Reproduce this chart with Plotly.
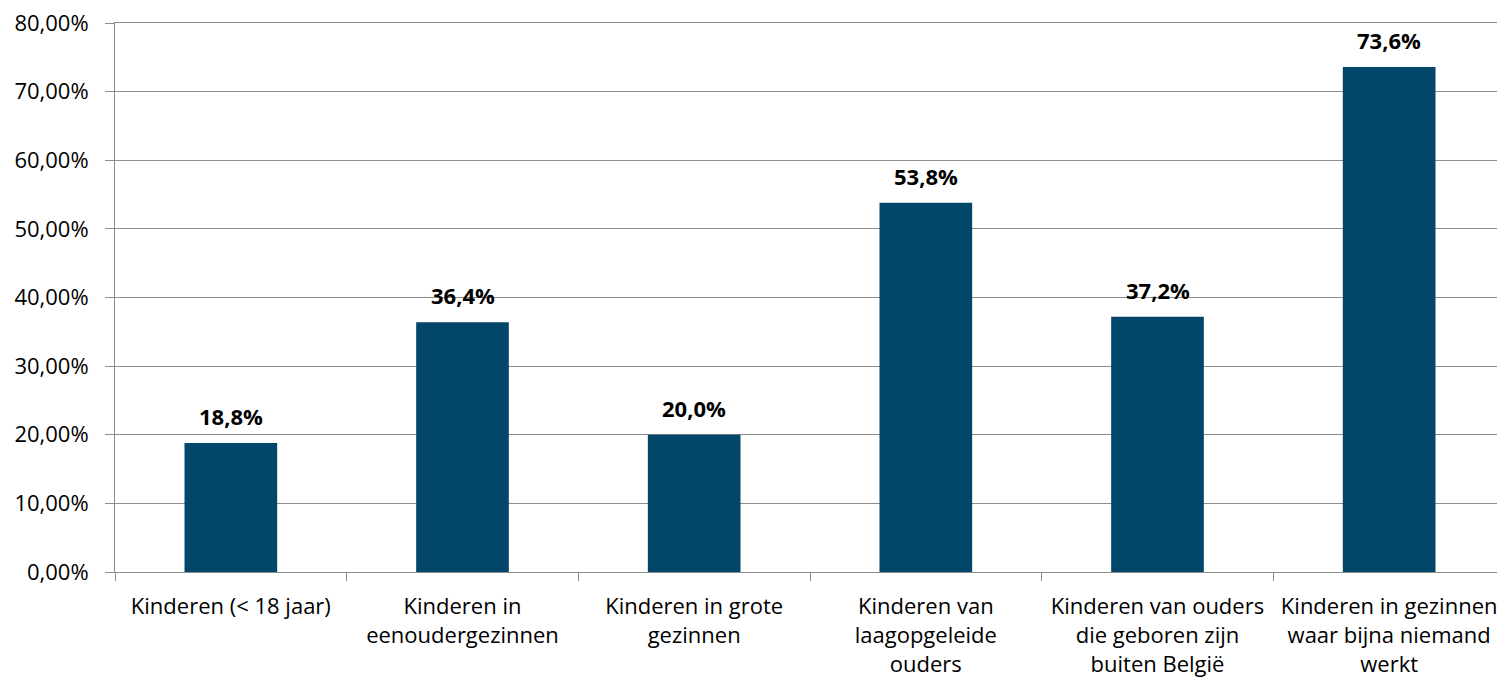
import plotly.graph_objects as go

categories = [
    "Kinderen (< 18 jaar)",
    "Kinderen in<br>eenoudergezinnen",
    "Kinderen in grote<br>gezinnen",
    "Kinderen van<br>laagopgeleide<br>ouders",
    "Kinderen van ouders<br>die geboren zijn<br>buiten België",
    "Kinderen in gezinnen<br>waar bijna niemand<br>werkt",
]
values = [18.8, 36.4, 20.0, 53.8, 37.2, 73.6]
labels = ["18,8%", "36,4%", "20,0%", "53,8%", "37,2%", "73,6%"]
y_ticks = [0, 10, 20, 30, 40, 50, 60, 70, 80]
y_tick_text = ["0,00%", "10,00%", "20,00%", "30,00%", "40,00%", "50,00%", "60,00%", "70,00%", "80,00%"]

FONT = "Open Sans"
FS = 22
BAR = "#02466A"
GRID = "#8C8C8C"

fig = go.Figure()
fig.add_trace(go.Bar(x=categories, y=values, marker=dict(color=BAR, line=dict(width=0)), hoverinfo="skip"))

for c, v, t in zip(categories, values, labels):
    fig.add_annotation(x=c, y=v, text="<b>" + t + "</b>", showarrow=False,
                       yanchor="bottom", yshift=10,
                       font=dict(family=FONT, size=FS, color="#000000"))

# page body has an 8px margin, so plot area lands at x 115..1505, y 23..572
fig.update_layout(
    width=1505, height=683,
    margin=dict(l=107, r=8, t=15, b=119),
    paper_bgcolor="white", plot_bgcolor="white",
    bargap=0.6,
    showlegend=False,
    separators=",.",
    font=dict(family=FONT, size=FS, color="#000000"),
)
fig.update_xaxes(
    showline=True, linecolor=GRID, linewidth=1, mirror=True,
    ticks="outside", tickson="boundaries", ticklen=8, tickcolor=GRID,
    showgrid=False, tickfont=dict(family=FONT, size=FS, color="#000000"),
    tickangle=0, automargin=False, ticklabelstandoff=15,
)
fig.update_yaxes(
    range=[0, 80], tickvals=y_ticks, ticktext=y_tick_text,
    showgrid=True, gridcolor=GRID, gridwidth=1,
    showline=True, linecolor=GRID, linewidth=1,
    ticks="outside", ticklen=9, tickcolor=GRID,
    tickfont=dict(family=FONT, size=FS, color="#000000"),
    zeroline=False, automargin=False, ticklabelstandoff=12,
    ticklabeloverflow="allow",
)

fig.write_html("out.html")
